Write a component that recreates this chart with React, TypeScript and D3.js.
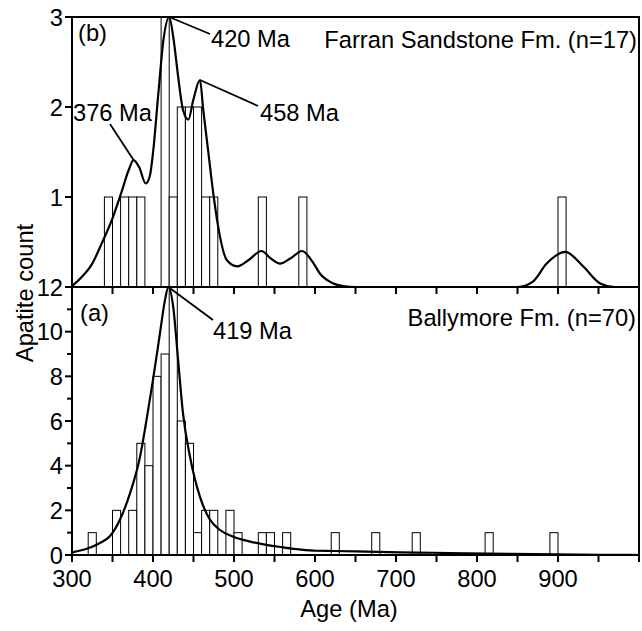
import React from "react";
import * as d3 from "d3";

// ---- Data ----
const binWidth = 10;
// Top panel (b) Farran Sandstone Fm.
const topBinStarts = [340, 360, 370, 380, 410, 420, 430, 440, 450, 460, 470, 530, 580, 900];
const topCounts = [1, 1, 1, 1, 3, 1, 2, 2, 2, 1, 1, 1, 1, 1];
// Bottom panel (a) Ballymore Fm.
const botBinStarts = [320, 350, 370, 380, 390, 400, 410, 420, 430, 440, 450, 460, 470, 490, 500, 530, 540, 560, 620, 670, 720, 810, 890];
const botCounts = [1, 2, 2, 5, 4, 8, 9, 12, 6, 5, 1, 2, 2, 2, 1, 1, 1, 1, 1, 1, 1, 1, 1];

// Probability density curves (age, scaled count)
const topCurveAge = [300, 312, 325, 337, 349, 362, 370, 376, 383, 391, 396, 400, 406.6, 412.8, 420, 425, 431, 437, 443.6, 449.8, 458, 462, 468, 475, 482.7, 491, 504, 518, 534, 545, 557, 570, 584, 597, 606, 620, 635, 650, 850, 869, 886, 909, 931, 952, 970, 1000];
const topCurveVal = [0.01, 0.11, 0.26, 0.49, 0.74, 1.08, 1.3, 1.41, 1.33, 1.15, 1.23, 1.49, 2.15, 2.74, 3.0, 2.78, 2.34, 1.97, 1.86, 2.08, 2.3, 1.97, 1.52, 1.0, 0.56, 0.3, 0.23, 0.3, 0.4, 0.32, 0.26, 0.32, 0.4, 0.28, 0.15, 0.05, 0.01, 0, 0, 0.06, 0.26, 0.39, 0.23, 0.04, 0, 0];
const botCurveAge = [300, 320, 335, 347, 359, 371.6, 384, 392, 400, 408.6, 414.8, 419, 425, 431, 437, 445.7, 458, 470, 482.7, 499, 520, 540, 561, 581, 602, 623, 664, 705, 746, 787, 870, 952, 1000];
const botCurveVal = [0.12, 0.3, 0.55, 0.85, 1.57, 2.76, 4.4, 6.05, 7.84, 9.93, 11.42, 12, 11.1, 8.73, 6.35, 4.4, 2.6, 1.6, 1.12, 0.82, 0.6, 0.45, 0.34, 0.25, 0.19, 0.18, 0.15, 0.12, 0.1, 0.07, 0.04, 0.01, 0];

const xTickValues = [300, 350, 400, 450, 500, 550, 600, 650, 700, 750, 800, 850, 900, 950, 1000];
const xTickLabels = ["300", "400", "500", "600", "700", "800", "900"];
const topYTicks = [1, 2, 3];
const botYTicks = [0, 1, 2, 3, 4, 5, 6, 7, 8, 9, 10, 11, 12];
const botYLabels = [0, 2, 4, 6, 8, 10, 12];

const peakLabelsTop = [
  { age: 376, val: 1.41, text: "376 Ma", tx: 110, ty: 124, lx: 73, ly: 121, anchor: "start" },
  { age: 420, val: 3.0, text: "420 Ma", tx: 210, ty: 34, lx: 211, ly: 47, anchor: "start" },
  { age: 458, val: 2.3, text: "458 Ma", tx: 258, ty: 106, lx: 260, ly: 121, anchor: "start" },
];
const peakLabelsBot = [
  { age: 419, val: 12, text: "419 Ma", tx: 213, ty: 320, lx: 213, ly: 339, anchor: "start" },
];

const FONT = "'Liberation Sans', Arial, Helvetica, sans-serif";
const FS = 23.7;

export default function App() {
  const left = 72, right = 639;
  const topY0 = 17, midY = 287, botY = 555;
  const x = d3.scaleLinear().domain([300, 1000]).range([left, right]);
  const yTop = d3.scaleLinear().domain([0, 3]).range([midY, topY0]);
  const yBot = d3.scaleLinear().domain([0, 12]).range([botY, midY]);

  const topLine = d3.line<number>()
    .x((_, i) => x(topCurveAge[i]))
    .y((d) => yTop(d))
    .curve(d3.curveMonotoneX);
  const botLine = d3.line<number>()
    .x((_, i) => x(botCurveAge[i]))
    .y((d) => yBot(d))
    .curve(d3.curveMonotoneX);

  const textStyle = { fontFamily: FONT, fontSize: FS, fill: "#000" } as const;

  return (
    <svg width={642} height={631} style={{ position: "absolute", left: 0, top: 0, background: "#fff" }}>
      <rect x={0} y={0} width={642} height={631} fill="#fff" />
      {/* bars top */}
      {topBinStarts.map((b, i) => (
        <rect key={"tb" + i} x={x(b)} y={yTop(topCounts[i])} width={x(b + binWidth) - x(b)} height={yTop(0) - yTop(topCounts[i])}
          fill="#fff" stroke="#000" strokeWidth={1} />
      ))}
      {/* bars bottom */}
      {botBinStarts.map((b, i) => (
        <rect key={"bb" + i} x={x(b)} y={yBot(botCounts[i])} width={x(b + binWidth) - x(b)} height={yBot(0) - yBot(botCounts[i])}
          fill="#fff" stroke="#000" strokeWidth={1} />
      ))}
      {/* curves */}
      <path d={topLine(topCurveVal) || ""} fill="none" stroke="#000" strokeWidth={2.2} />
      <path d={botLine(botCurveVal) || ""} fill="none" stroke="#000" strokeWidth={2.2} />

      {/* frames */}
      <rect x={left} y={topY0} width={right - left} height={midY - topY0} fill="none" stroke="#000" strokeWidth={2} />
      <rect x={left} y={midY} width={right - left} height={botY - midY} fill="none" stroke="#000" strokeWidth={2} />

      {/* x ticks top panel (pointing down) */}
      {xTickValues.map((v) => (
        <line key={"xt" + v} x1={x(v)} x2={x(v)} y1={midY} y2={midY + 7} stroke="#000" strokeWidth={2} />
      ))}
      {/* x ticks bottom panel */}
      {xTickValues.map((v) => (
        <line key={"xb" + v} x1={x(v)} x2={x(v)} y1={botY} y2={botY + 7} stroke="#000" strokeWidth={2} />
      ))}
      {xTickLabels.map((t) => (
        <text key={"xl" + t} x={x(+t)} y={587} textAnchor="middle" style={textStyle}>{t}</text>
      ))}

      {/* y ticks top */}
      {topYTicks.map((v) => (
        <line key={"yt" + v} x1={left - 7} x2={left} y1={yTop(v)} y2={yTop(v)} stroke="#000" strokeWidth={2} />
      ))}
      {topYTicks.map((v) => (
        <text key={"ytl" + v} x={left - 9} y={yTop(v)} dy="0.36em" textAnchor="end" style={textStyle}>{v}</text>
      ))}
      {/* y ticks bottom */}
      {botYTicks.map((v) => (
        <line key={"yb" + v} x1={left - (v % 2 === 0 ? 7 : 5)} x2={left} y1={yBot(v)} y2={yBot(v)} stroke="#000" strokeWidth={2} />
      ))}
      {botYLabels.map((v) => (
        <text key={"ybl" + v} x={left - 9} y={yBot(v)} dy="0.36em" textAnchor="end" style={textStyle}>{v}</text>
      ))}

      {/* peak labels */}
      {peakLabelsTop.map((p) => (
        <g key={p.text}>
          <line x1={x(p.age)} y1={yTop(p.val)} x2={p.tx} y2={p.ty} stroke="#000" strokeWidth={1.8} />
          <text x={p.lx} y={p.ly} textAnchor={p.anchor as any} style={textStyle}>{p.text}</text>
        </g>
      ))}
      {peakLabelsBot.map((p) => (
        <g key={p.text}>
          <line x1={x(p.age)} y1={yBot(p.val)} x2={p.tx} y2={p.ty} stroke="#000" strokeWidth={1.8} />
          <text x={p.lx} y={p.ly} textAnchor={p.anchor as any} style={textStyle}>{p.text}</text>
        </g>
      ))}

      {/* panel labels */}
      <text x={78} y={41} style={textStyle}>(b)</text>
      <text x={80} y={321} style={textStyle}>(a)</text>
      <text x={637} y={48} textAnchor="end" style={textStyle}>Farran Sandstone Fm. (n=17)</text>
      <text x={636} y={326} textAnchor="end" style={textStyle}>Ballymore Fm. (n=70)</text>

      {/* axis titles */}
      <text x={349} y={617} textAnchor="middle" style={textStyle}>Age (Ma)</text>
      <text transform={`translate(33,293) rotate(-90)`} textAnchor="middle" style={textStyle}>Apatite count</text>
    </svg>
  );
}
